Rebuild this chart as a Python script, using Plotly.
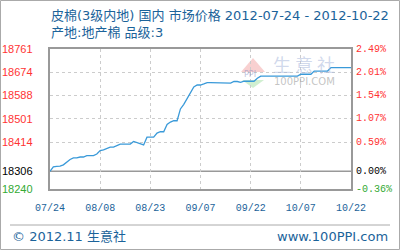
import pandas as pd
import plotly.graph_objects as go

# ---------------- data ----------------
start_date = "2012-07-24"
prices = [
    18306, 18322, 18324, 18325, 18330, 18340, 18350, 18356, 18356, 18359,
    18359, 18364, 18364, 18364, 18370, 18383, 18386, 18390, 18396, 18396,
    18401, 18407, 18407, 18407, 18407, 18417, 18413, 18407, 18404, 18433,
    18433, 18433, 18448, 18453, 18453, 18480, 18489, 18494, 18494, 18538,
    18555, 18575, 18598, 18620, 18627, 18627, 18631, 18636, 18636, 18636,
    18636, 18634, 18634, 18634, 18634, 18640, 18640, 18637, 18641, 18641,
    18641, 18641, 18652,
    18660, 18660, 18660, 18660, 18660, 18660, 18660, 18660, 18660, 18660, 18660, 18660,
    18667, 18667, 18667, 18667,
    18679, 18679, 18679, 18679, 18679,
    18692, 18692, 18692, 18692, 18692, 18692, 18692,
]
dates = pd.date_range(start_date, periods=len(prices), freq="D")

base_price = 18306
y_ticks = [18761, 18674, 18588, 18501, 18414, 18306, 18240]
x_tick_dates = ["2012-07-24", "2012-08-08", "2012-08-23", "2012-09-07",
                "2012-09-22", "2012-10-07", "2012-10-22"]
x_tick_labels = ["07/24", "08/08", "08/23", "09/07", "09/22", "10/07", "10/22"]

title_line1 = "皮棉(3级内地) 国内 市场价格 2012-07-24 - 2012-10-22"
title_line2 = "产地:地产棉 品级:3"
footer_left = "© 2012.11 生意社"
footer_right = "www.100PPI.com"

# ---------------- layout geometry ----------------
W, H = 400, 250
L, R, T, B = 50, 49, 49, 61
PW, PH = W - L - R, H - T - B


def px(x):
    return (x - L) / PW


def py(y):
    return (H - B - y) / PH


BLUE_TEXT = "#1b639a"
LINE_BLUE = "#3a9ad9"
RED = "#ff3333"
GREEN = "#33aa33"
GRID = "#cccccc"
BORDER = "#999999"
MONO = "Liberation Mono, DejaVu Sans Mono, monospace"
SANS = "DejaVu Sans, Noto Sans CJK SC, sans-serif"
NUM = "Liberation Sans, Arial, sans-serif"

fig = go.Figure()
fig.add_trace(go.Scatter(
    x=dates, y=prices, mode="lines",
    line=dict(color=LINE_BLUE, width=1.3),
    hoverinfo="skip", showlegend=False,
))

grid_y = [v for v in y_ticks if v not in (base_price, y_ticks[-1])]

fig.update_layout(
    width=W, height=H,
    margin=dict(l=L, r=R, t=T, b=B, pad=0),
    paper_bgcolor="white", plot_bgcolor="white",
    showlegend=False,
    xaxis=dict(
        type="date",
        range=[x_tick_dates[0], x_tick_dates[-1]],
        tickvals=x_tick_dates, ticktext=x_tick_labels,
        showgrid=True, gridcolor=GRID, griddash="3px,3px", gridwidth=1,
        showline=True, linecolor=BORDER, linewidth=1.5, mirror=True,
        ticks="", ticklabelstandoff=8,
        tickfont=dict(family=MONO, size=10, color=BLUE_TEXT),
        zeroline=False, fixedrange=True,
    ),
    yaxis=dict(
        range=[y_ticks[-1], y_ticks[0]],
        tickvals=grid_y, showticklabels=False,
        showgrid=True, gridcolor=GRID, griddash="3px,3px", gridwidth=1,
        showline=True, linecolor=BORDER, linewidth=1.5, mirror=True,
        ticks="", zeroline=False, fixedrange=True,
    ),
)

shapes = []
# base (0%) solid line
shapes.append(dict(type="line", xref="paper", yref="y", x0=0, x1=1,
                   y0=base_price, y1=base_price,
                   line=dict(color=BORDER, width=1.5), layer="below"))
# outer image border
shapes.append(dict(type="rect", xref="paper", yref="paper",
                   x0=px(0.5), x1=px(W - 0.5), y0=py(0.5), y1=py(H - 0.5),
                   line=dict(color="#aaaaaa", width=1)))
# footer separator
shapes.append(dict(type="line", xref="paper", yref="paper",
                   x0=px(10), x1=px(390), y0=py(225), y1=py(225),
                   line=dict(color="#aaaaaa", width=1)))
# watermark logo triangles
shapes.append(dict(type="path", xref="paper", yref="paper",
                   path=f"M {px(241)},{py(72)} L {px(253)},{py(58)} L {px(265)},{py(72)} Z",
                   fillcolor="rgba(240,150,150,0.45)", line=dict(width=0), layer="below"))
shapes.append(dict(type="path", xref="paper", yref="paper",
                   path=f"M {px(242)},{py(80)} L {px(264)},{py(80)} L {px(253)},{py(88)} Z",
                   fillcolor="rgba(150,220,150,0.45)", line=dict(width=0), layer="below"))
fig.update_layout(shapes=shapes)

ann = []


def text(x, y, s, size, color, family=SANS, xanchor="left", yanchor="middle"):
    ann.append(dict(xref="paper", yref="paper", x=px(x), y=py(y), text=s,
                    showarrow=False, xanchor=xanchor, yanchor=yanchor,
                    font=dict(family=family, size=size, color=color)))


# watermark text
text(242, 74, "PPI", 8, "rgba(120,130,190,0.5)", family="DejaVu Sans")
text(271, 64, "生 意 社", 18, "rgba(170,185,220,0.55)", family="Noto Sans CJK SC")
text(272, 81, "100PPI.COM", 10, "rgba(170,170,170,0.7)", family="DejaVu Sans")

# titles
text(49, 15, title_line1, 13, BLUE_TEXT)
text(49, 33, title_line2, 13, BLUE_TEXT)

# left & right axis labels
for v in y_ticks:
    col = "#000000" if v == base_price else (RED if v > base_price else GREEN)
    pct = (v / base_price - 1) * 100
    ann.append(dict(xref="paper", yref="y", x=0, y=v, xshift=-15,
                    xanchor="right", yanchor="middle", showarrow=False,
                    text=str(v), font=dict(family=NUM, size=11, color=col)))
    ann.append(dict(xref="paper", yref="y", x=1, y=v, xshift=3,
                    xanchor="left", yanchor="middle", showarrow=False,
                    text=f"{pct:.2f}%", font=dict(family=MONO, size=10, color=col)))

# footer
text(10, 236, footer_left, 13, BLUE_TEXT)
text(390, 236, footer_right, 13, BLUE_TEXT, xanchor="right")

fig.update_layout(annotations=ann)
fig.write_html("out.html")
